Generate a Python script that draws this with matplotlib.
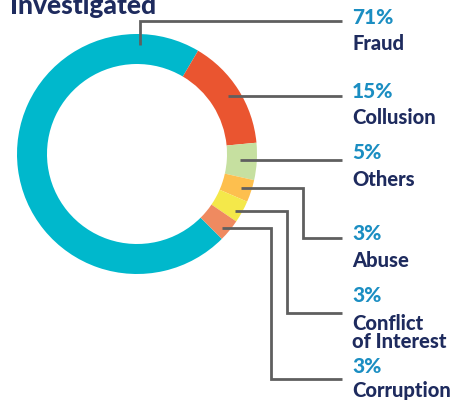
import matplotlib
matplotlib.use("Agg")
import matplotlib.pyplot as plt

categories = ["Fraud", "Collusion", "Others", "Abuse", "Conflict\nof Interest", "Corruption"]
values = [71, 15, 5, 3, 3, 3]
pct_labels = ["71%", "15%", "5%", "3%", "3%", "3%"]
colors = ["#00B8CC", "#EA5530", "#C6E0A0", "#FDBF4E", "#F4E84A", "#EF8A60"]

W, H = 461, 402
fig = plt.figure(figsize=(W / 100, H / 100), dpi=100)
ax = fig.add_axes([0, 0, 1, 1])

def Y(y):
    return H - y

cx, cy, R = 137, 155, 120
ax.pie(values, colors=colors, startangle=-45, counterclock=False,
       center=(cx, Y(cy)), radius=R,
       wedgeprops=dict(width=30, linewidth=0))

ax.set_xlim(0, W)
ax.set_ylim(0, H)
ax.set_aspect("equal")
ax.axis("off")

line_kw = dict(color="#5F5F5F", lw=2, solid_capstyle="butt", solid_joinstyle="miter")
paths = [
    [(140, 46), (140, 22), (342, 22)],
    [(228, 97), (342, 97)],
    [(240, 161), (342, 161)],
    [(241, 189), (303, 189), (303, 239), (342, 239)],
    [(235, 212), (287, 212), (287, 314), (342, 314)],
    [(222, 229), (271, 229), (271, 380), (342, 380)],
]
for p in paths:
    ax.plot([q[0] for q in p], [Y(q[1]) for q in p], **line_kw)

font = "Lato"
blue = "#1B8EC2"
navy = "#1E2B5E"
tx = 352
pct_base = [24, 98, 159, 240, 302, 373]
lab_base = [50, 124, 186, 267, 330, 397]
for i in range(len(categories)):
    ax.text(tx, Y(pct_base[i]), pct_labels[i], color=blue, fontsize=15,
            fontweight="black", family=font, va="baseline", ha="left")
    lines = categories[i].split("\n")
    for j, ln in enumerate(lines):
        ax.text(tx, Y(lab_base[i] + j * 18), ln, color=navy, fontsize=14.5,
                fontweight="black", family=font, va="baseline", ha="left")

ax.text(10, Y(14), "Investigated", color=navy, fontsize=19, fontweight="black",
        family=font, va="baseline", ha="left")

fig.savefig("out.png", dpi=100)
